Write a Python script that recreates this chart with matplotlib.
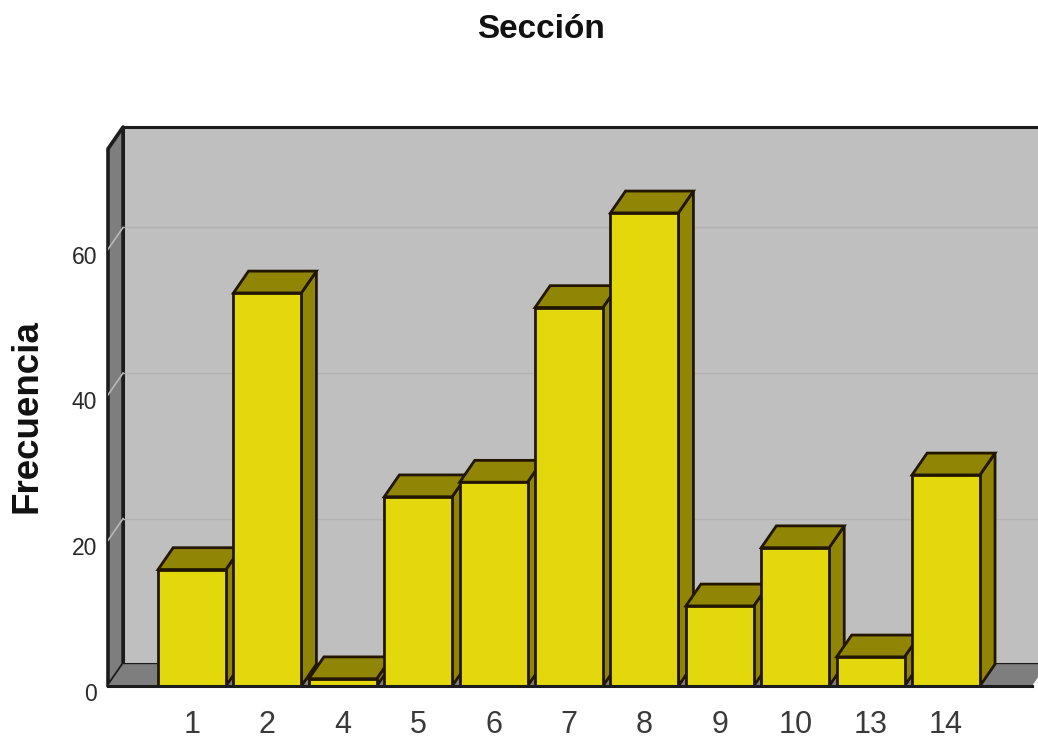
import matplotlib
matplotlib.use('Agg')
import matplotlib.pyplot as plt
from matplotlib.patches import Polygon
from matplotlib.transforms import ScaledTranslation

sections = ['1', '2', '4', '5', '6', '7', '8', '9', '10', '13', '14']
counts = [16, 54, 1, 26, 28, 52, 65, 11, 19, 4, 29]
y_ticks = [0, 20, 40, 60]

FRONT = '#e3d80c'
SHADE = '#918505'
EDGE = '#221600'
WALL_EDGE = '#1c1c1c'
WALL = '#bfbfbf'
WALL_DARK = '#7e7e7e'
GRID = '#b2b2b2'

BAR_WIDTH = 0.9
DEPTH_X = 0.2   # how far the 3D box goes back, in x units
DEPTH_Y = 3.0   # same, in y units
X_MIN, X_MAX = -1.114, 11.22
Y_MAX = 76.8

W, H = 1038, 740
fig = plt.figure(figsize=(W / 100, H / 100), dpi=100, facecolor='white')
ax = fig.add_axes([108 / W, (H - 686) / H, (W - 108) / W, (686 - 127) / H])
ax.set_xlim(X_MIN, X_MAX)
ax.set_ylim(0, Y_MAX)
for spine in ax.spines.values():
    spine.set_visible(False)


def poly(points, color, lw=2.0, z=1, edge=EDGE, join='miter'):
    ax.add_patch(Polygon(points, closed=True, facecolor=color, edgecolor=edge,
                         linewidth=lw, joinstyle=join, zorder=z, clip_on=False))


# back wall, side wall and floor
wall_left = X_MIN + DEPTH_X
far_right = X_MAX + 0.1
poly([(wall_left, DEPTH_Y), (far_right, DEPTH_Y), (far_right, Y_MAX), (wall_left, Y_MAX)], WALL, lw=2.2, edge=WALL_EDGE)
poly([(X_MIN, 0), (wall_left, DEPTH_Y), (wall_left, Y_MAX), (X_MIN, Y_MAX - DEPTH_Y)], WALL_DARK, lw=2.6, edge=WALL_EDGE, join='round')
poly([(X_MIN, 0), (X_MAX - 0.08, 0), (X_MAX + 0.12, DEPTH_Y), (wall_left, DEPTH_Y)], WALL_DARK, lw=0, edge=WALL_DARK)

# gridlines run along the back wall and down the side wall
for t in y_ticks[1:]:
    ax.plot([wall_left, X_MAX], [t + DEPTH_Y] * 2, color=GRID, lw=1, zorder=2)
    ax.plot([X_MIN, wall_left], [t, t + DEPTH_Y], color='#b8b8b8', lw=1.2, zorder=2)

# each bar is a side face, a top face and a front face
for i, value in enumerate(counts):
    x0 = i - BAR_WIDTH / 2
    x1 = i + BAR_WIDTH / 2
    z = 3 + i
    poly([(x1, 0), (x1 + DEPTH_X, DEPTH_Y), (x1 + DEPTH_X, value + DEPTH_Y), (x1, value)], SHADE, z=z)
    poly([(x0, value), (x0 + DEPTH_X, value + DEPTH_Y), (x1 + DEPTH_X, value + DEPTH_Y), (x1, value)], SHADE, z=z)
    poly([(x0, 0), (x0, value), (x1, value), (x1, 0)], FRONT, z=z)

ax.plot([X_MIN, X_MAX - 0.08], [0, 0], color=WALL_EDGE, lw=2.2, zorder=20, clip_on=False)

ax.set_xticks(range(len(sections)))
ax.set_xticklabels(sections, family='Liberation Sans', fontsize=22, color='#3a3a3a')
ax.tick_params(axis='x', length=0, pad=17)
ax.set_yticks(y_ticks)
ax.set_yticklabels(y_ticks, family='Liberation Sans', fontsize=16.5, color='#2a2a2a')
ax.tick_params(axis='y', length=0, pad=8)
shift = ScaledTranslation(0, -4 / 72, fig.dpi_scale_trans)
for label in ax.get_yticklabels():
    label.set_transform(label.get_transform() + shift)

fig.text(541 / W, 1 - 30 / H, 'Sección', family='Liberation Sans', fontweight='bold',
         fontsize=24, ha='center', va='center', color='#111111')
fig.text(27 / W, 1 - 416 / H, 'Frecuencia', family='Liberation Sans', fontweight='bold',
         fontsize=26.5, rotation=90, ha='center', va='center', color='#111111')

fig.savefig('out.png', dpi=100)
plt.close(fig)
